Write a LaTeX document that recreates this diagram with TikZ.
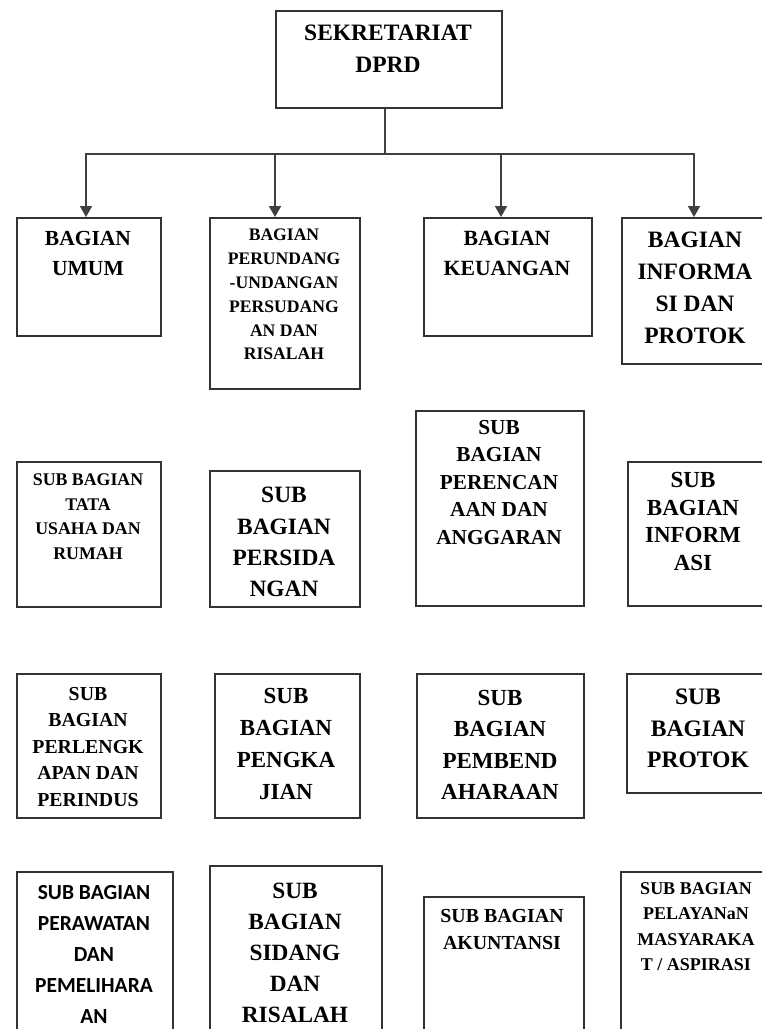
\documentclass[tikz,border=0pt]{standalone}
\usepackage{fontspec}
\setmainfont{Liberation Serif}
\newfontfamily\carl{Carlito}
\usetikzlibrary{arrows.meta}
\newcommand\fz[2]{\fontsize{#1}{#2}\selectfont\bfseries}
\tikzset{
  box/.style={draw=black!80, line width=1.8pt, rectangle, inner sep=0pt, anchor=north west},
  txt/.style={anchor=north, inner sep=0pt, align=center, text=black},
  conn/.style={draw=black!75, line width=1.8pt},
  arr/.style={conn, -{Triangle[width=12pt,length=11pt]}}
}
\begin{document}
\begin{tikzpicture}[x=1pt,y=-1pt]
\useasboundingbox (0,0) rectangle (762,1029);
\clip (0,0) rectangle (762,1029);
% boxes
\node[box, minimum width=226, minimum height=97] (top) at (275,10) {};
\node[box, minimum width=144, minimum height=118] (umum) at (16,217) {};
\node[box, minimum width=150, minimum height=171] (perund) at (209,217) {};
\node[box, minimum width=168, minimum height=118] (keu) at (423,217) {};
\node[box, minimum width=148, minimum height=146] (info) at (621,217) {};
\node[box, minimum width=144, minimum height=145] (tata) at (16,461) {};
\node[box, minimum width=150, minimum height=136] (persid) at (209,470) {};
\node[box, minimum width=168, minimum height=195] (peren) at (415,410) {};
\node[box, minimum width=138, minimum height=144] (infosub) at (627,461) {};
\node[box, minimum width=144, minimum height=144] (perleng) at (16,673) {};
\node[box, minimum width=145, minimum height=144] (pengkaj) at (214,673) {};
\node[box, minimum width=167, minimum height=144] (pembend) at (416,673) {};
\node[box, minimum width=144, minimum height=119] (protok) at (626,673) {};
\node[box, minimum width=156, minimum height=180] (perawat) at (16,871) {};
\node[box, minimum width=172, minimum height=186] (sidang) at (209,865) {};
\node[box, minimum width=160, minimum height=155] (akunt) at (423,896) {};
\node[box, minimum width=152, minimum height=180] (pelay) at (620,871) {};
% texts
\node[txt, font=\fz{23.5}{32}] (topt) at (388,25) {SEKRETARIAT\\DPRD};
\node[txt, font=\fz{21.5}{30.5}] (umumt) at (88,231) {BAGIAN\\UMUM};
\node[txt, font=\fz{17.6}{23.8}] (perundt) at (284,229) {BAGIAN\\PERUNDANG\\-UNDANGAN\\PERSUDANG\\AN DAN\\RISALAH};
\node[txt, font=\fz{21.7}{30}] (keut) at (507,231) {BAGIAN\\KEUANGAN};
\node[txt, font=\fz{23.5}{32}] (infot) at (695,232) {BAGIAN\\INFORMA\\SI DAN\\PROTOK};
\node[txt, font=\fz{17.8}{24.4}] (tatat) at (88,474) {SUB BAGIAN\\TATA\\USAHA DAN\\RUMAH};
\node[txt, font=\fz{23.4}{31.4}] (persidt) at (284,487) {SUB\\BAGIAN\\PERSIDA\\NGAN};
\node[txt, font=\fz{21.3}{27.5}] (perent) at (499,420) {SUB\\BAGIAN\\PERENCAN\\AAN DAN\\ANGGARAN};
\node[txt, font=\fz{23}{27.6}] (infosubt) at (693,472) {SUB\\BAGIAN\\INFORM\\ASI};
\node[txt, font=\fz{19.8}{26.5}] (perlengt) at (88,687) {SUB\\BAGIAN\\PERLENGK\\APAN DAN\\PERINDUS};
\node[txt, font=\fz{23}{32}] (pengkajt) at (286,688) {SUB\\BAGIAN\\PENGKA\\JIAN};
\node[txt, font=\fz{23}{31.4}] (pembendt) at (500,690) {SUB\\BAGIAN\\PEMBEND\\AHARAAN};
\node[txt, font=\fz{23.6}{31.5}] (protokt) at (698,689) {SUB\\BAGIAN\\PROTOK};
\node[txt, font=\carl\fz{21.5}{31}] (perawatt) at (94,885) {SUB BAGIAN\\PERAWATAN\\DAN\\PEMELIHARA\\AN};
\node[txt, font=\fz{23.3}{31}] (sidangt) at (295,883) {SUB\\BAGIAN\\SIDANG\\DAN\\RISALAH};
\node[txt, font=\fz{19.9}{26.7}] (akuntt) at (502,909) {SUB BAGIAN\\AKUNTANSI};
\node[txt, font=\fz{18}{25.6}] (pelayt) at (696,882) {SUB BAGIAN\\PELAYANaN\\MASYARAKA\\T / ASPIRASI};
% connectors
\coordinate (j0) at (385,154);
\coordinate (h1) at (86,154);
\coordinate (h2) at (275,154);
\coordinate (h3) at (501,154);
\coordinate (h4) at (694,154);
\draw[conn] (top.south -| j0) -- (j0);
\draw[conn, line cap=rect] (h1) -- (h4);
\draw[arr] (h1) -- (h1 |- umum.north);
\draw[arr] (h2) -- (h2 |- perund.north);
\draw[arr] (h3) -- (h3 |- keu.north);
\draw[arr] (h4) -- (h4 |- info.north);
\end{tikzpicture}
\end{document}
